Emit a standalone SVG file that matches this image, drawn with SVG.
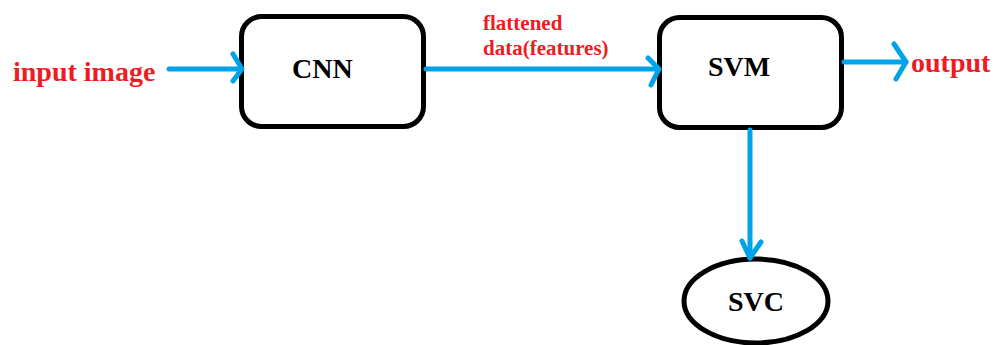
<svg xmlns="http://www.w3.org/2000/svg" width="999" height="345" viewBox="0 0 999 345">
<style>
.box{fill:#fff;stroke:#000;stroke-width:5}
.lbl{font-family:"Liberation Serif","Times New Roman",serif;font-weight:bold;font-size:28px;fill:#000}
.red{font-family:"Liberation Serif","Times New Roman",serif;font-weight:bold;fill:#ed1c24}
.ln{fill:none;stroke:#00a2e8;stroke-width:5;stroke-linecap:round;stroke-linejoin:round}
</style>
<rect width="999" height="345" fill="#fff"/>
<g id="input">
<text class="red" x="13" y="81" font-size="28">input image</text>
</g>
<g id="cnn">
<rect class="box" x="241.5" y="16.5" width="182" height="110" rx="20"/>
<text class="lbl" x="292" y="78">CNN</text>
</g>
<g id="svm">
<rect class="box" x="659.5" y="17.5" width="182" height="110" rx="20"/>
<text class="lbl" x="708" y="76">SVM</text>
</g>
<g id="svc">
<ellipse class="box" cx="756" cy="301" rx="72" ry="42"/>
<text class="lbl" x="728" y="311">SVC</text>
</g>
<g id="output">
<text class="red" x="911" y="72" font-size="28">output</text>
</g>
<g id="connectors">
<line class="ln" x1="169" y1="69" x2="241" y2="69"/>
<polyline class="ln" points="233,54 242,69 233,81"/>
<line class="ln" x1="426" y1="69" x2="659" y2="69"/>
<polyline class="ln" points="648,58 659,69 651,85"/>
<text class="red" x="483" y="30" font-size="21">flattened</text>
<text class="red" x="483" y="55" font-size="21">data(features)</text>
<line class="ln" x1="844" y1="62" x2="906" y2="62"/>
<polyline class="ln" points="894,44 906,62 896,79"/>
<line class="ln" x1="750" y1="130" x2="750" y2="258"/>
<polyline class="ln" points="742,241 750,258 761,242"/>
</g>
</svg>
